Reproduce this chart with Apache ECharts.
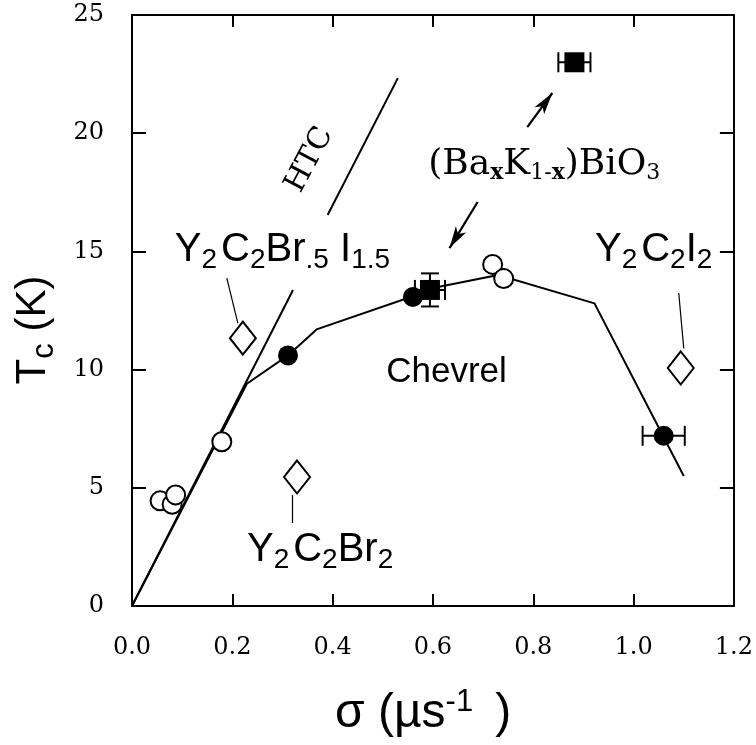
<!DOCTYPE html>
<html>
<head>
<meta charset="utf-8">
<script src="https://cdn.jsdelivr.net/npm/echarts@6/dist/echarts.min.js"></script>
<style>
	html, body { margin: 0; padding: 0; background: #fff; }
	#chart { width: 756px; height: 745px; }
</style>
</head>
<body>
<div id="chart"></div>
<script>
// Tc vs sigma
var openCircles = [[0.056, 4.45], [0.080, 4.3], [0.087, 4.7], [0.179, 6.95], [0.719, 14.45], [0.741, 13.85]];
var filledCircles = [[0.311, 10.6], [0.560, 13.07], [1.060, 7.2]];
var filledSquares = [[0.594, 13.37], [0.882, 23.0]];
var diamonds = [[0.221, 11.33], [0.329, 5.46], [1.094, 10.07]];
// [x, y, dx, dy]
var errorBars = [[0.594, 13.37, 0.03, 0.7], [0.882, 23.0, 0.032, 0], [1.060, 7.2, 0.042, 0]];
var chevrelLine = [[0, 0], [0.229, 9.4], [0.311, 10.6], [0.368, 11.7], [0.560, 13.1], [0.600, 13.45], [0.730, 14.0], [0.922, 12.8], [1.100, 5.5]];
var htcLow = [[0, 0], [0.321, 13.37]];
var htcHigh = [[0.39, 16.54], [0.53, 22.33]];
var arrows = [[[0.788, 20.26], [0.838, 21.7]], [[0.689, 17.09], [0.633, 15.14]]];
var leaders = [[[0.189, 13.87], [0.211, 11.97]], [[1.09, 13.24], [1.10, 10.9]], [[0.32, 4.7], [0.32, 3.51]]];

// text annotations
var labels = [
	{ value: [0.30, 15.05], text: '{m|Y}{s|2}{g|}{m|C}{s|2}{m|Br}{s|.5}{m| I}{s|1.5}' },
	{ value: [1.04, 15.05], text: '{m|Y}{s|2}{g|}{m|C}{s|2}{m|I}{s|2}' },
	{ value: [0.375, 2.35], text: '{m|Y}{s|2}{g|}{m|C}{s|2}{m|Br}{s|2}' },
	{ value: [0.627, 9.9], text: '{c|Chevrel}' },
	{ value: [0.822, 18.65], text: '{b|(Ba}{bx|x}{b|K}{bs|1-}{bx|x}{b|)BiO}{bs|3}' }
];

var chartObj = echarts.init(document.getElementById('chart'));

var sans = 'Liberation Sans';
var serif = 'DejaVu Serif';

var richText = {
	m: { fontFamily: sans, fontSize: 40, color: '#000' },
	s: { fontFamily: sans, fontSize: 28, color: '#000', padding: [20, 0, 0, 0] },
	g: { width: 4 },
	c: { fontFamily: sans, fontSize: 35, color: '#000' },
	b: { fontFamily: serif, fontSize: 36, color: '#000' },
	bs: { fontFamily: serif, fontSize: 22, color: '#000', padding: [16, 0, 0, 0] },
	bx: { fontFamily: serif, fontSize: 22, fontWeight: 'bold', color: '#000', padding: [16, 0, 0, 0] }
};

var axisLine = { show: true, onZero: false, lineStyle: { color: '#000', width: 2 } };
var tickStyle = { color: '#000', width: 2 };
var tickLabel = { fontFamily: serif, fontSize: 24, color: '#000' };

function segSeries(pts) {
	return {
		type: 'line',
		data: pts,
		symbol: 'none',
		lineStyle: { color: '#000', width: 2 },
		z: 2
	};
}

var option = {
	animation: false,
	backgroundColor: '#fff',
	grid: { left: 132, right: 21, top: 15, bottom: 139 },
	xAxis: [
		{
			type: 'value', min: 0, max: 1.2, interval: 0.2,
			axisLine: axisLine,
			axisTick: { inside: true, length: 12, lineStyle: tickStyle },
			axisLabel: Object.assign({ margin: 30, formatter: function (v) { return v.toFixed(1); } }, tickLabel),
			splitLine: { show: false }
		},
		{
			type: 'value', min: 0, max: 1.2, interval: 0.2, position: 'top',
			axisLine: axisLine,
			axisTick: { inside: true, length: 12, lineStyle: tickStyle },
			axisLabel: { show: false },
			splitLine: { show: false }
		}
	],
	yAxis: [
		{
			type: 'value', min: 0, max: 25, interval: 5,
			axisLine: axisLine,
			axisTick: { inside: true, length: 14, lineStyle: tickStyle },
			axisLabel: Object.assign({ margin: 28 }, tickLabel),
			splitLine: { show: false }
		},
		{
			type: 'value', min: 0, max: 25, interval: 5, position: 'right',
			axisLine: axisLine,
			axisTick: { inside: true, length: 14, lineStyle: tickStyle },
			axisLabel: { show: false },
			splitLine: { show: false }
		}
	],
	// axis titles
	graphic: [
		{
			type: 'text', x: 33, y: 330, rotation: Math.PI / 2,
			style: {
				text: '{m|T}{sub|c}{m| (K)}',
				align: 'center', verticalAlign: 'middle',
				rich: {
					m: { fontFamily: sans, fontSize: 42, fill: '#000' },
					sub: { fontFamily: sans, fontSize: 31, fill: '#000', padding: [22, 0, 0, 0] }
				}
			}
		},
		{
			type: 'text', x: 335, y: 714,
			style: {
				text: '{m|σ (µ}{m|s}{sup|-1}{g|}{m|)}',
				align: 'left', verticalAlign: 'middle',
				rich: {
					m: { fontFamily: sans, fontSize: 48, fill: '#000' },
					sup: { fontFamily: sans, fontSize: 31, fill: '#000', padding: [0, 0, 24, 0] },
					g: { width: 22 }
				}
			}
		}
	],
	series: [
		segSeries(chevrelLine),
		segSeries(htcLow),
		segSeries(htcHigh),
		{
			// placeholder series so the mirrored axes are used
			type: 'line', data: [], xAxisIndex: 1, yAxisIndex: 1
		},
		{
			// arrows + leader lines
			type: 'scatter',
			data: [],
			symbolSize: 0,
			markLine: {
				silent: true,
				symbol: ['none', 'none'],
				label: { show: false },
				lineStyle: { color: '#000', width: 1.2, type: 'solid', opacity: 1 },
				data: leaders.map(function (s) {
					return [{ coord: s[0] }, { coord: s[1] }];
				}).concat(arrows.map(function (s) {
					return [{ coord: s[0], symbol: 'none', lineStyle: { width: 2.2 } }, { coord: s[1], symbol: 'arrow', symbolSize: [9, 22] }];
				}))
			}
		},
		{
			type: 'custom',
			renderItem: function (params, api) {
				var x = api.value(0), y = api.value(1), dx = api.value(2), dy = api.value(3);
				var l = api.coord([x - dx, y]);
				var r = api.coord([x + dx, y]);
				var st = { stroke: '#000', lineWidth: 2 };
				var kids = [
					{ type: 'line', shape: { x1: l[0], y1: l[1], x2: r[0], y2: r[1] }, style: st },
					{ type: 'line', shape: { x1: l[0], y1: l[1] - 10, x2: l[0], y2: l[1] + 10 }, style: st },
					{ type: 'line', shape: { x1: r[0], y1: r[1] - 10, x2: r[0], y2: r[1] + 10 }, style: st }
				];
				if (dy > 0) {
					var t = api.coord([x, y + dy]);
					var b = api.coord([x, y - dy]);
					kids.push({ type: 'line', shape: { x1: t[0], y1: t[1], x2: b[0], y2: b[1] }, style: st });
					kids.push({ type: 'line', shape: { x1: t[0] - 9, y1: t[1], x2: t[0] + 9, y2: t[1] }, style: st });
					kids.push({ type: 'line', shape: { x1: b[0] - 9, y1: b[1], x2: b[0] + 9, y2: b[1] }, style: st });
				}
				return { type: 'group', children: kids };
			},
			data: errorBars,
			z: 3
		},
		{
			type: 'scatter',
			data: openCircles,
			symbol: 'circle',
			symbolSize: 19,
			itemStyle: { color: '#fff', borderColor: '#000', borderWidth: 2, opacity: 1 },
			z: 4
		},
		{
			type: 'scatter',
			data: filledCircles,
			symbol: 'circle',
			symbolSize: 20,
			itemStyle: { color: '#000', opacity: 1 },
			z: 4
		},
		{
			type: 'scatter',
			data: filledSquares,
			symbol: 'rect',
			symbolSize: 20,
			itemStyle: { color: '#000', opacity: 1 },
			z: 4
		},
		{
			type: 'scatter',
			data: diamonds,
			symbol: 'diamond',
			symbolSize: [26, 33],
			itemStyle: { color: '#fff', borderColor: '#000', borderWidth: 2, opacity: 1 },
			z: 4
		},
		{
			// HTC label
			type: 'scatter',
			data: [[0.354, 18.87]],
			symbolSize: 0,
			itemStyle: { opacity: 1 },
			label: {
				show: true, position: 'inside', formatter: 'HTC', rotate: 62,
				fontFamily: serif, fontSize: 30, color: '#000'
			},
			z: 5
		},
		{
			type: 'scatter',
			data: labels.map(function (d) { return { value: d.value, txt: d.text }; }),
			symbolSize: 0,
			itemStyle: { opacity: 1 },
			label: {
				show: true, position: 'inside', color: '#000',
				formatter: function (p) { return p.data.txt; },
				rich: richText
			},
			z: 5
		}
	]
};
chartObj.setOption(option);
</script>
</body>
</html>
